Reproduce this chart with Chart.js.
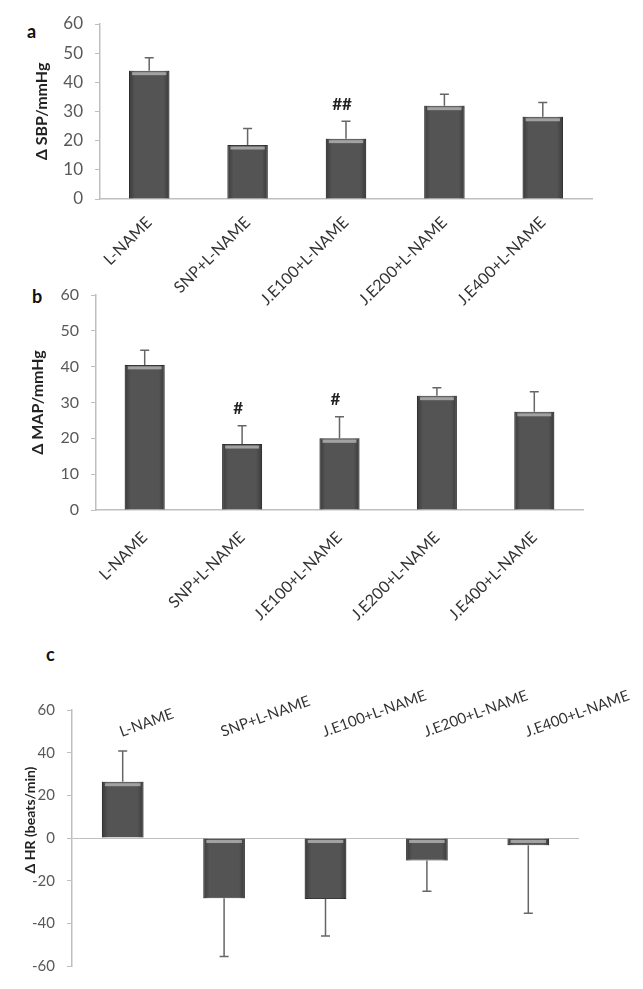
<!DOCTYPE html>
<html>
<head>
<meta charset="utf-8">
<script src="https://cdn.jsdelivr.net/npm/chart.js@4.4.0/dist/chart.umd.min.js"></script>
<style>
  body { margin: 0; background: #fff; width: 643px; height: 989px; position: relative; overflow: hidden; font-family: Lato, sans-serif; }
  canvas { position: absolute; left: 0; }
  .panel { position: absolute; font: bold 18px Lato, sans-serif; color: #111; }
</style>
</head>
<body>
<div class="panel" style="left:27px;top:20px">a</div>
<div class="panel" style="left:32px;top:285px">b</div>
<div class="panel" style="left:46px;top:643px">c</div>
<canvas id="chartA" width="643" height="330" style="top:0"></canvas>
<canvas id="chartB" width="643" height="360" style="top:270px"></canvas>
<canvas id="chartC" width="643" height="349" style="top:640px"></canvas>
<script>
// groups
const categories = ['L-NAME', 'SNP+L-NAME', 'J.E100+L-NAME', 'J.E200+L-NAME', 'J.E400+L-NAME'];

// a: systolic pressure change
const sbpMean = [44, 18.5, 20.7, 32, 28.2];
const sbpSem = [4.4, 5.7, 6.0, 3.9, 4.9];
const sbpMarks = ['', '', '##', '', ''];

// b: mean arterial pressure change
const mapMean = [40.5, 18.4, 20, 31.9, 27.4];
const mapSem = [4.1, 5.1, 6.0, 2.2, 5.6];
const mapMarks = ['', '#', '#', '', ''];

// c: heart rate change
const hrMean = [26.4, -28.3, -28.6, -10.6, -3.4];
const hrSem = [14.4, 27.3, 17.3, 14.4, 31.9];

const axisGray = '#bfbfbf';
const tickGray = '#595959';

// shading, error bars and # marks on top of the bars
const barExtras = {
    id: 'barExtras',
    afterDatasetsDraw(chart) {
        const ctx = chart.ctx;
        const y = chart.scales.y;
        const ds = chart.data.datasets[0];
        chart.getDatasetMeta(0).data.forEach((bar, i) => {
            const left = bar.x - bar.width / 2;
            const top = Math.min(bar.y, bar.base);
            const h = Math.abs(bar.base - bar.y);
            ctx.save();
            const g = ctx.createLinearGradient(left, 0, left + bar.width, 0);
            g.addColorStop(0, 'rgba(0,0,0,0.3)');
            g.addColorStop(0.15, 'rgba(0,0,0,0)');
            g.addColorStop(0.85, 'rgba(0,0,0,0)');
            g.addColorStop(1, 'rgba(0,0,0,0.3)');
            ctx.fillStyle = g;
            ctx.fillRect(left, top, bar.width, h);
            if (h > 6) {
                ctx.fillStyle = 'rgba(205,205,205,0.65)';
                ctx.fillRect(left + 3, top + 1.5, bar.width - 6, 3);
            }
            const v = ds.data[i];
            const end = v >= 0 ? v + ds.errors[i] : v - ds.errors[i];
            const y0 = y.getPixelForValue(v);
            const y1 = y.getPixelForValue(end);
            ctx.strokeStyle = '#666';
            ctx.lineWidth = 1.5;
            ctx.beginPath();
            ctx.moveTo(bar.x, y0);
            ctx.lineTo(bar.x, y1);
            ctx.moveTo(bar.x - 4.5, y1);
            ctx.lineTo(bar.x + 4.5, y1);
            ctx.stroke();
            const mark = ds.marks && ds.marks[i];
            if (mark) {
                ctx.fillStyle = '#222';
                ctx.font = 'bold 17px Lato';
                ctx.textAlign = 'center';
                ctx.textBaseline = 'middle';
                ctx.fillText(mark, bar.x - 4, y1 - 17);
            }
            ctx.restore();
        });
    }
};

// panel c: labels above the bars and the y title
const hrLabels = {
    id: 'hrLabels',
    afterDraw(chart) {
        const ctx = chart.ctx;
        const x = chart.scales.x;
        ctx.save();
        ctx.fillStyle = '#333';
        ctx.font = '15px Lato';
        ctx.textAlign = 'left';
        ctx.textBaseline = 'alphabetic';
        categories.forEach((c, i) => {
            ctx.save();
            ctx.translate(x.getPixelForValue(i) - 1, chart.chartArea.top + 27);
            ctx.rotate(-20 * Math.PI / 180);
            ctx.fillText(c, 0, 0);
            ctx.restore();
        });
        ctx.translate(30, 180);
        ctx.rotate(-Math.PI / 2);
        ctx.font = 'bold 14px Lato';
        ctx.fillStyle = '#222';
        ctx.textAlign = 'center';
        ctx.textBaseline = 'middle';
        ctx.fillText('\u0394 HR (beats/min)', 0, 0);
        ctx.restore();
    }
};

function makeChart(id, cfg) {
    const yOpts = {
        min: cfg.min,
        max: cfg.max,
        afterFit: s => { s.width = cfg.yWidth; },
        ticks: { stepSize: cfg.step, color: tickGray, font: { family: 'Lato', size: cfg.tickSize }, padding: 12 },
        grid: {
            drawOnChartArea: !!cfg.zeroLine,
            color: ctx => (cfg.zeroLine && ctx.tick && ctx.tick.value === 0) ? axisGray : 'rgba(0,0,0,0)',
            tickColor: axisGray,
            tickLength: 5
        },
        border: { color: axisGray, width: 1.5 }
    };
    if (cfg.title) {
        yOpts.title = { display: true, text: cfg.title, color: '#222', font: { family: 'Lato', size: 16, weight: 'bold' }, padding: { top: cfg.titlePad, bottom: 0 } };
    }
    return new Chart(document.getElementById(id), {
        type: 'bar',
        data: {
            labels: categories,
            datasets: [{
                data: cfg.values,
                errors: cfg.sem,
                marks: cfg.marks,
                backgroundColor: '#545454',
                borderColor: '#3a3a3a',
                borderWidth: 1,
                categoryPercentage: 1,
                barPercentage: 0.41
            }]
        },
        options: {
            responsive: false,
            animation: false,
            layout: { padding: cfg.padding },
            plugins: { legend: { display: false }, tooltip: { enabled: false } },
            scales: {
                x: {
                    display: !cfg.hideX,
                    afterFit: s => { s.height = cfg.xHeight; },
                    grid: { display: false },
                    border: { color: axisGray, width: 1.5 },
                    ticks: { color: '#333', font: { family: 'Lato', size: 16 }, minRotation: 45, maxRotation: 45, autoSkip: false, padding: cfg.xPad }
                },
                y: yOpts
            }
        },
        plugins: cfg.plugins
    });
}

makeChart('chartA', {
    values: sbpMean, sem: sbpSem, marks: sbpMarks,
    min: 0, max: 60, step: 10, tickSize: 17,
    yWidth: 100, xHeight: 131, xPad: 6,
    padding: { left: 0, top: 24, right: 51, bottom: 0 },
    title: '\u0394 SBP/mmHg', titlePad: 32,
    plugins: [barExtras]
});

makeChart('chartB', {
    values: mapMean, sem: mapSem, marks: mapMarks,
    min: 0, max: 60, step: 10, tickSize: 16,
    yWidth: 96, xHeight: 120, xPad: 10,
    padding: { left: 0, top: 25, right: 60, bottom: 0 },
    title: '\u0394 MAP/mmHg', titlePad: 28,
    plugins: [barExtras]
});

makeChart('chartC', {
    values: hrMean, sem: hrSem,
    min: -60, max: 60, step: 20, tickSize: 15,
    yWidth: 72, xHeight: 0, hideX: true, zeroLine: true,
    padding: { left: 0, top: 70, right: 64, bottom: 23 },
    plugins: [barExtras, hrLabels]
});
</script>
</body>
</html>
